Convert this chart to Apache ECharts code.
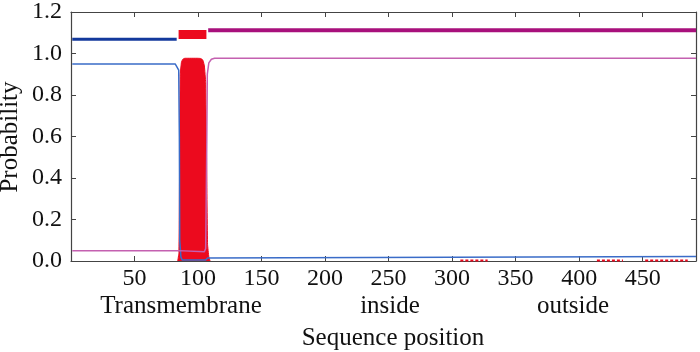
<!DOCTYPE html>
<html>
<head>
<meta charset="utf-8">
<script src="https://cdn.jsdelivr.net/npm/echarts@6/dist/echarts.min.js"></script>
<style>
  html, body { margin: 0; padding: 0; background: #fff; }
  #chart { width: 700px; height: 352px; }
</style>
</head>
<body>
<div id="chart"></div>
<script>
// sequence position range and tick labels
var seqMin = 0;
var seqMax = 492;
var xTicks = [50, 100, 150, 200, 250, 300, 350, 400, 450];
var yTicks = [0.0, 0.2, 0.4, 0.6, 0.8, 1.0, 1.2];

// predicted topology bars at the top: [position, level]
var topInside = [[1, 1.069], [83.2, 1.069]];
var topTM = [[84.7, 1.092], [106.6, 1.092]];
var topOutside = [[108, 1.112], [492, 1.112]];

// posterior probabilities: [position, probability]
var probInside = [[1, 0.95], [82, 0.95], [83.5, 0.945], [84.8, 0.92], [85.3, 0.6], [85.6, 0.1],
  [86.5, 0.02], [87.5, 0.005], [106, 0.005], [107.5, 0.015], [109, 0.022], [492, 0.022]];
var probOutside = [[1, 0.05], [84.5, 0.05], [85.5, 0.045], [105, 0.045], [106, 0.06],
  [106.8, 0.5], [107.3, 0.9], [108.5, 0.955], [110.5, 0.972], [113, 0.977], [492, 0.977]];
var tmPos = [84, 85, 85.5, 86, 87, 88, 89, 90, 100, 102, 103, 104, 105, 106, 106.8, 107.5, 108.5, 109.5];
var tmProb = [0.0, 0.04, 0.5, 0.9, 0.96, 0.972, 0.976, 0.977, 0.977, 0.976, 0.973, 0.965, 0.94, 0.86, 0.45, 0.08, 0.02, 0.0];
// faint transmembrane probability near zero further along
var tmLow = [[306.5, 0.003], [328, 0.003], null, [414, 0.003], [434.5, 0.003], null,
  [452, 0.003], [485.5, 0.003]];

var font = '"Liberation Serif", "DejaVu Serif", serif';
var axisColor = '#444';

var chart = echarts.init(document.getElementById('chart'));
var option = {
  animation: false,
  grid: { left: 71, right: 4, top: 10, bottom: 91 },
  xAxis: [
    {
      type: 'value', min: seqMin, max: seqMax, interval: 50,
      axisLine: { lineStyle: { color: axisColor, width: 1.2 } },
      axisTick: { inside: true, length: 5, lineStyle: { color: axisColor } },
      splitLine: { show: false },
      axisLabel: {
        color: '#111', fontFamily: font, fontSize: 24, margin: 6,
        showMaxLabel: false,
        formatter: function (v) { return xTicks.indexOf(v) >= 0 ? String(v) : ''; }
      }
    },
    {
      type: 'value', position: 'top', min: seqMin, max: seqMax, interval: 50,
      axisLine: { show: true, onZero: false, lineStyle: { color: axisColor, width: 1.2 } },
      axisTick: { inside: true, length: 5, lineStyle: { color: axisColor } },
      axisLabel: { show: false },
      splitLine: { show: false }
    }
  ],
  yAxis: [
    {
      type: 'value', min: 0, max: 1.2, interval: 0.2,
      axisLine: { show: true, lineStyle: { color: axisColor, width: 1.2 } },
      axisTick: { show: true, inside: true, length: 5, lineStyle: { color: axisColor } },
      splitLine: { show: false },
      axisLabel: {
        color: '#111', fontFamily: font, fontSize: 24, margin: 9,
        formatter: function (v) { return v.toFixed(1); }
      }
    },
    {
      type: 'value', position: 'right', min: 0, max: 1.2, interval: 0.2,
      axisLine: { show: true, onZero: false, lineStyle: { color: axisColor, width: 1.2 } },
      axisTick: { show: true, inside: true, length: 5, lineStyle: { color: axisColor } },
      axisLabel: { show: false },
      splitLine: { show: false }
    }
  ],
  series: [
    {
      name: 'TM', type: 'line', symbol: 'none', silent: true, smooth: 0.1,
      lineStyle: { color: '#ec0a1e', width: 1 },
      areaStyle: { color: '#ec0a1e', opacity: 1 },
      data: tmPos.map(function (p, i) { return [p, tmProb[i]]; })
    },
    {
      name: 'inside', type: 'line', symbol: 'none', silent: true,
      lineStyle: { color: '#3a6cc8', width: 1.5 },
      data: probInside
    },
    {
      name: 'outside', type: 'line', symbol: 'none', silent: true,
      lineStyle: { color: '#c460b0', width: 1.5 },
      data: probOutside
    },
    {
      name: 'tmLow', type: 'line', symbol: 'none', silent: true, connectNulls: false,
      lineStyle: { color: '#ec0a1e', width: 2, type: [3, 2] },
      data: tmLow
    },
    {
      name: 'topInside', type: 'line', symbol: 'none', silent: true,
      lineStyle: { color: '#13399c', width: 3, cap: 'butt' },
      data: topInside
    },
    {
      name: 'topTM', type: 'line', symbol: 'none', silent: true,
      lineStyle: { color: '#ec0a1e', width: 9, cap: 'butt' },
      data: topTM
    },
    {
      name: 'topOutside', type: 'line', symbol: 'none', silent: true,
      lineStyle: { color: '#a8107c', width: 4, cap: 'butt' },
      data: topOutside
    }
  ],
  graphic: [
    { type: 'text', x: 10, y: 137, rotation: Math.PI / 2,
      style: { text: 'Probability', font: '25px ' + font, fill: '#111', textAlign: 'center', textVerticalAlign: 'middle' } },
    { type: 'text', x: 181, y: 306,
      style: { text: 'Transmembrane', font: '25px ' + font, fill: '#111', textAlign: 'center', textVerticalAlign: 'middle' } },
    { type: 'text', x: 390, y: 306,
      style: { text: 'inside', font: '25px ' + font, fill: '#111', textAlign: 'center', textVerticalAlign: 'middle' } },
    { type: 'text', x: 573, y: 306,
      style: { text: 'outside', font: '25px ' + font, fill: '#111', textAlign: 'center', textVerticalAlign: 'middle' } },
    { type: 'text', x: 393, y: 338,
      style: { text: 'Sequence position', font: '25px ' + font, fill: '#111', textAlign: 'center', textVerticalAlign: 'middle' } }
  ]
};
chart.setOption(option);
window.addEventListener('resize', function () {
  chart.resize();
});
</script>
</body>
</html>
